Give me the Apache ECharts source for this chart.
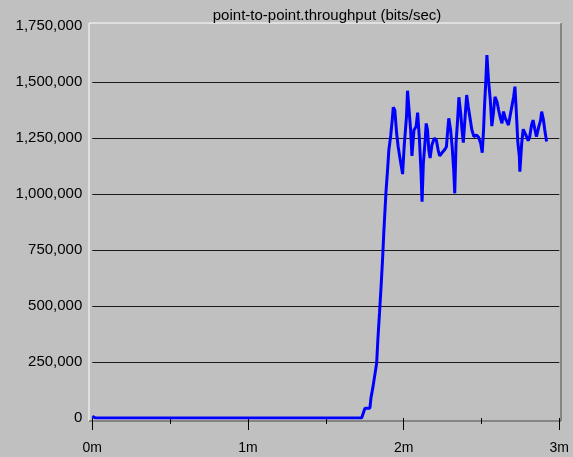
<!DOCTYPE html>
<html>
<head>
<meta charset="utf-8">
<title>point-to-point.throughput</title>
<script src="https://cdn.jsdelivr.net/npm/echarts@6/dist/echarts.min.js"></script>
<style>
  html, body { margin: 0; padding: 0; background: #c0c0c0; }
  #chart { width: 573px; height: 457px; }
</style>
</head>
<body>
<div id="chart"></div>
<script>
// Simulation time of each sample, in seconds
const timeSec = [
  0, 1.2, 103.8, 105.1, 107.0, 107.4, 108.2, 109.6, 110.1, 110.7, 111.3, 111.9, 112.4,
  113.2, 113.8, 114.3, 115.0, 115.6, 116.0, 116.6, 117.3, 117.9, 118.6, 119.6,
  120.2, 121.1, 121.5, 122.2, 122.7, 123.2, 124.0, 124.8, 125.4, 126.1, 126.7,
  127.1, 127.6, 128.3, 128.7, 129.2, 129.7, 130.2, 130.9, 131.8, 132.6, 133.3,
  133.9, 134.8, 135.7, 136.5, 137.0, 137.4, 138.1, 138.7, 139.3, 139.7, 140.2,
  140.8, 141.3, 142.0, 142.5, 143.0, 143.7, 144.3, 144.9, 145.6, 146.3, 147.1,
  148.1, 148.9, 149.7, 150.3, 150.8, 151.2, 151.7, 152.1, 152.7, 153.4, 154.0,
  154.6, 155.2, 156.0, 156.6, 157.3, 157.9, 158.5, 159.2, 159.8, 160.4, 161.1,
  161.7, 162.4, 162.9, 163.4, 164.0, 164.6, 164.8, 165.5, 166.1, 166.8, 167.4,
  168.0, 168.6, 169.3, 169.9, 170.5, 171.2, 172.1, 172.8, 173.2, 173.9, 174.4, 175.1
];

// Throughput at each sample, bits/sec
const throughput = [
  8000, 0, 0, 44000, 44000, 89000, 140000, 245000, 357000, 469000, 586000, 714000, 839000,
  1010000, 1107000, 1196000, 1259000, 1330000, 1387000, 1375000, 1271000, 1211000, 1159000, 1089000,
  1211000, 1345000, 1461000, 1457000, 1286000, 1170000, 1286000, 1301000, 1363000, 1241000, 1100000,
  966000, 1137000, 1241000, 1315000, 1286000, 1196000, 1161000, 1219000, 1249000, 1241000, 1196000,
  1170000, 1184000, 1196000, 1211000, 1286000, 1338000, 1286000, 1211000, 1107000, 1003000, 1226000,
  1330000, 1432000, 1360000, 1286000, 1229000, 1345000, 1442000, 1390000, 1338000, 1286000, 1256000,
  1263000, 1253000, 1226000, 1184000, 1286000, 1397000, 1509000, 1620000, 1509000, 1420000, 1303000,
  1360000, 1434000, 1412000, 1375000, 1339000, 1316000, 1368000, 1338000, 1323000, 1308000, 1353000,
  1390000, 1434000, 1479000, 1375000, 1234000, 1167000, 1100000, 1226000, 1289000, 1286000, 1256000,
  1238000, 1256000, 1308000, 1330000, 1293000, 1256000, 1301000, 1330000, 1368000, 1330000, 1286000, 1234000
];

// Axis extents and tick steps
const xMaxSec = 180;
const xStepSec = 60;
const yMax = 1750000;
const yStep = 250000;

const chart = echarts.init(document.getElementById('chart'), null, { renderer: 'canvas' });

// Raised panel edge around the plot
const frame = { x0: 89, y0: 23, x1: 561, y1: 421 };

const font = '"Liberation Sans", Arial, sans-serif';

chart.setOption({
  animation: false,
  backgroundColor: '#c0c0c0',
  title: {
    text: 'point-to-point.throughput (bits/sec)',
    left: 322,
    top: 3,
    textAlign: 'center',
    textStyle: { fontFamily: font, fontSize: 15, fontWeight: 'normal', color: '#000' }
  },
  graphic: [
    { type: 'polyline', silent: true, z: 0,
      shape: { points: [[frame.x0, frame.y1], [frame.x0, frame.y0], [frame.x1, frame.y0]] },
      style: { stroke: '#ffffff', lineWidth: 1, fill: null } },
    { type: 'polyline', silent: true, z: 0,
      shape: { points: [[frame.x1, frame.y0], [frame.x1, frame.y1], [frame.x0, frame.y1]] },
      style: { stroke: '#4a4a4a', lineWidth: 1, fill: null } }
  ],
  grid: { left: 92.3, right: 13.7, top: 26, bottom: 39, containLabel: false },
  xAxis: {
    type: 'value',
    min: 0,
    max: xMaxSec,
    interval: xStepSec,
    offset: 4,
    axisLine: { show: false },
    axisTick: { show: true, length: 12, lineStyle: { color: '#000', width: 1 } },
    minorTick: { show: true, splitNumber: 2, length: 6, lineStyle: { color: '#000', width: 1 } },
    splitLine: { show: false },
    axisLabel: {
      margin: 19,
      fontFamily: font, fontSize: 14, color: '#000',
      formatter: v => (v / 60) + 'm'
    }
  },
  yAxis: {
    type: 'value',
    min: 0,
    max: yMax,
    interval: yStep,
    axisLine: { show: false },
    axisTick: { show: false },
    splitLine: { show: true, showMinLine: false, showMaxLine: false, lineStyle: { color: '#1a1a1a', width: 1 } },
    axisLabel: {
      margin: 10,
      fontFamily: font, fontSize: 15, color: '#000',
      formatter: v => v.toLocaleString('en-US')
    }
  },
  series: [{
    type: 'line',
    data: timeSec.map((t, i) => [t, throughput[i]]),
    symbol: 'none',
    lineStyle: { color: '#0000ff', width: 3 },
    z: 3
  }]
});
</script>
</body>
</html>
